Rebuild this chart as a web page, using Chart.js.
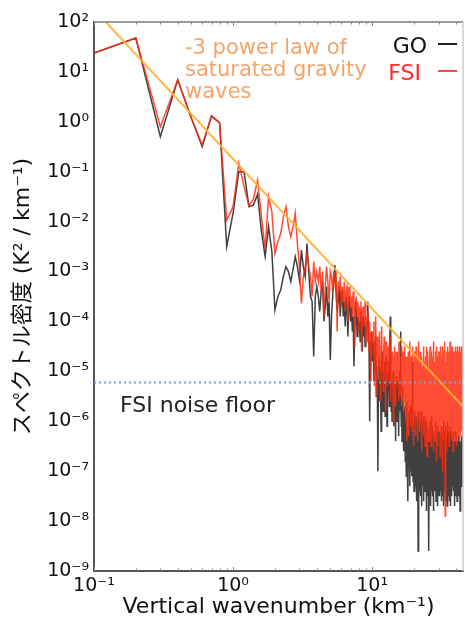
<!DOCTYPE html>
<html>
<head>
<meta charset="utf-8">
<script src="https://cdn.jsdelivr.net/npm/chart.js@4/dist/chart.umd.min.js"></script>
<style>
  html, body { margin: 0; padding: 0; background: #fff; }
  #spec { display: block; }
</style>
</head>
<body>
<canvas id="spec" width="465" height="620"></canvas>
<script>
// spectra, stored as log10(K^2 / km^-1), one row per 1 km^-1
const dk = 0.1;
const goLog = [
  1.38, 1.68, -0.3, 0.84, 0.08, -0.5, 0.12, -0.02, -2.5, -1.83,
  -1.0, -1.0, -1.7, -1.67, -1.45, -2.2, -2.7, -2.1, -2.6, -3.77,
  -3.5, -3.37, -3.1, -2.9, -3.0, -3.2, -2.95, -2.7, -2.9, -3.17,
  -2.57, -2.9, -3.1, -2.44, -3.0, -3.5, -3.6, -4.7, -3.5, -3.3,
  -3.5, -3.8, -3.4, -3.2, -4.0, -3.7, -3.3, -3.9, -3.6, -4.77,
  -3.9, -3.5, -3.2, -2.87, -3.4, -3.77, -3.6, -3.3, -3.9, -3.4,
  -3.4, -3.9, -3.6, -4.1, -3.5, -3.8, -4.3, -3.5, -3.7, -4.0,
  -3.7, -4.2, -3.9, -4.9, -4.0, -3.6, -3.8, -4.3, -3.9, -4.1,
  -4.0, -4.4, -3.8, -4.2, -4.6, -3.9, -4.3, -4.0, -4.5, -4.1,
  -4.3, -4.0, -3.6, -4.2, -4.5, -6.0, -4.4, -4.8, -4.2, -4.6,
  -4.8, -4.4, -5.2, -4.6, -5.0, -4.3, -5.5, -4.9, -5.3, -7.0,
  -5.2, -4.7, -5.6, -4.9, -5.4, -6.2, -5.0, -4.6, -5.3, -5.8,
  -5.0, -5.5, -4.8, -5.9, -5.2, -4.7, -5.6, -6.1, -5.3, -5.0,
  -5.4, -4.8, -5.7, -4.4, -3.9, -5.1, -5.8, -5.2, -6.0, -5.4,
  -5.6, -5.0, -6.1, -5.4, -5.8, -5.2, -6.4, -5.7, -5.1, -6.0,
  -6.0, -5.4, -5.9, -5.2, -6.3, -5.6, -5.0, -5.8, -5.3, -4.2,
  -5.5, -6.1, -5.7, -6.4, -5.9, -5.3, -6.2, -5.8, -6.6, -6.0,
  -6.2, -5.7, -6.8, -5.9, -6.5, -7.1, -6.0, -5.6, -6.6, -7.2,
  -7.6, -6.3, -5.8, -6.9, -6.1, -7.3, -6.4, -5.7, -7.0, -6.2,
  -6.6, -5.9, -7.1, -5.5, -4.8, -6.3, -7.2, -6.0, -6.7, -7.4,
  -6.1, -6.9, -5.8, -7.3, -6.4, -5.9, -7.0, -6.5, -7.6, -6.2,
  -5.9, -6.8, -6.3, -8.6, -6.5, -7.2, -5.8, -6.9, -6.2, -7.4,
  -6.7, -6.0, -7.5, -6.3, -5.8, -7.0, -7.7, -6.4, -6.0, -6.9,
  -6.2, -7.3, -6.5, -5.9, -7.6, -6.6, -7.1, -6.0, -6.8, -7.4,
  -6.4, -5.9, -7.2, -6.7, -7.8, -6.3, -6.0, -7.0, -6.5, -7.5,
  -6.1, -7.1, -6.4, -7.4, -6.7, -8.6, -6.9, -6.2, -7.3, -6.6,
  -6.0, -7.2, -6.5, -7.7, -6.3, -7.0, -5.9, -7.4, -6.6, -7.1,
  -6.8, -6.1, -7.5, -6.6, -7.0, -6.2, -7.8, -6.7, -7.2, -6.4,
  -7.1, -6.3, -7.4, -6.8, -6.0, -7.3, -6.6, -7.6, -6.9, -6.2,
  -7.3, -6.5, -7.0, -6.7, -6.1, -7.7, -6.8, -7.2, -6.3, -7.5,
  -6.6, -7.4, -6.2, -7.0, -6.5, -7.5, -6.9, -6.3, -7.4, -7.0,
  -6.4, -7.2, -6.8, -6.1, -7.3, -6.7, -7.6, -6.3, -7.0, -7.4,
  -6.9, -6.3, -7.5, -6.6, -7.1, -6.0, -7.2, -7.7, -6.5, -7.0,
  -6.5, -7.4, -6.9, -6.2, -7.1, -6.8, -6.1, -7.3, -7.6, -6.6,
  -7.2, -6.4, -7.0, -6.7, -6.3, -7.7, -6.6, -7.1, -6.0, -7.3,
  -6.8, -7.4, -6.3, -7.0, -6.6, -7.5, -6.2, -6.9, -7.6, -6.7,
  -7.1, -6.5, -6.9, -7.7, -6.4, -7.3, -6.1, -7.0, -6.7, -7.4,
  -6.5, -7.2, -6.8, -6.2, -7.5, -6.9, -6.4, -7.3, -6.7, -7.1,
  -6.9, -6.3, -7.4, -6.7, -7.1, -6.2, -7.3, -6.6, -7.7, -6.8,
  -6.6, -7.2, -6.4, -7.0, -6.5, -7.5, -6.9, -6.2, -7.3, -6.8,
  -7.0, -6.5, -7.4, -6.9, -6.3, -7.2, -6.7, -7.6, -6.5, -7.1,
  -6.7, -7.3, -6.9, -6.4, -7.2, -6.6, -7.5, -7.0, -6.3, -7.2,
  -6.9, -6.4, -7.1, -6.7, -7.3, -6.5, -7.2, -6.8, -7.8, -6.6,
  -7.1, -6.6, -7.0, -6.4, -7.4, -6.9, -6.5, -7.2, -6.8, -6.3,
  -7.0, -6.5, -7.3, -6.9, -6.4, -7.1, -6.6, -6.3, -6.9, -6.1
];
const fsiLog = [
  1.38, 1.68, -0.1, 0.84, 0.08, -0.46, 0.12, -0.02, -1.97, -1.7,
  -0.83, -1.3, -1.68, -1.55, -1.17, -1.9, -2.55, -1.5, -1.8, -2.64,
  -2.4, -2.24, -1.9, -1.7, -2.1, -2.3, -2.1, -1.83, -2.44, -2.9,
  -3.64, -3.1, -2.9, -2.64, -2.9, -3.1, -3.5, -2.8, -3.2, -3.0,
  -3.2, -2.9, -3.4, -3.0, -3.9, -3.3, -2.9, -3.2, -3.6, -3.0,
  -3.1, -3.4, -3.0, -3.2, -3.0, -4.2, -3.2, -3.4, -3.1, -3.7,
  -3.3, -3.6, -3.2, -3.8, -3.4, -3.3, -4.0, -3.5, -3.3, -3.7,
  -3.5, -3.9, -3.4, -3.7, -4.5, -3.6, -3.5, -3.9, -3.6, -4.2,
  -3.7, -4.0, -3.6, -4.6, -3.8, -3.7, -4.1, -3.9, -3.6, -4.4,
  -3.9, -4.4, -3.8, -4.1, -4.6, -4.0, -4.5, -5.2, -4.2, -4.4,
  -4.2, -4.7, -4.0, -5.3, -4.5, -3.9, -4.8, -5.5, -4.3, -4.6,
  -4.4, -5.0, -4.2, -4.8, -5.6, -4.5, -4.1, -5.0, -4.7, -5.4,
  -4.6, -4.3, -5.1, -4.7, -5.8, -4.4, -4.9, -4.5, -5.3, -4.8,
  -4.5, -5.2, -4.4, -4.9, -4.3, -5.6, -4.7, -5.0, -4.6, -5.4,
  -4.8, -6.0, -4.7, -5.1, -4.5, -5.4, -4.9, -5.7, -4.6, -5.2,
  -5.0, -4.6, -5.3, -4.8, -5.6, -4.4, -5.1, -4.7, -5.5, -4.9,
  -4.7, -5.2, -4.5, -5.6, -4.9, -5.3, -4.6, -5.8, -5.0, -4.8,
  -5.1, -4.5, -5.6, -4.9, -6.0, -4.7, -5.3, -6.4, -4.8, -5.5,
  -5.9, -4.6, -5.2, -6.3, -4.9, -5.5, -4.4, -5.8, -5.1, -6.1,
  -4.7, -5.6, -5.0, -6.2, -4.5, -5.7, -5.2, -4.8, -6.5, -5.3,
  -4.6, -5.9, -5.1, -4.8, -6.3, -5.4, -4.5, -5.7, -6.0, -5.0,
  -5.5, -4.7, -6.4, -5.2, -4.9, -5.8, -4.4, -5.3, -6.2, -5.0,
  -4.8, -6.0, -5.4, -4.6, -5.7, -6.6, -5.1, -4.7, -5.9, -5.3,
  -6.1, -4.9, -5.5, -4.5, -6.3, -5.2, -4.8, -5.8, -5.0, -6.5,
  -4.7, -5.6, -6.1, -5.0, -4.5, -5.9, -5.3, -6.7, -4.8, -5.4,
  -5.8, -4.6, -5.2, -6.2, -4.9, -5.5, -6.4, -4.7, -5.6, -5.1,
  -4.5, -6.0, -5.3, -4.8, -6.5, -5.1, -4.6, -5.7, -6.2, -5.0,
  -5.6, -4.7, -6.3, -5.2, -4.4, -5.9, -5.4, -6.6, -4.9, -5.5,
  -4.8, -5.7, -5.1, -6.4, -4.6, -5.3, -6.0, -4.9, -5.6, -6.8,
  -5.2, -4.5, -5.8, -6.1, -4.7, -5.4, -6.5, -5.0, -4.6, -5.9,
  -6.2, -4.8, -5.5, -4.6, -6.0, -5.3, -4.9, -6.7, -5.1, -4.5,
  -5.7, -6.3, -4.7, -5.4, -6.0, -4.8, -5.6, -5.1, -7.0, -4.6,
  -5.3, -4.5, -6.2, -5.0, -5.8, -4.7, -6.4, -5.2, -4.6, -5.9,
  -6.1, -4.9, -5.5, -4.4, -7.9, -5.3, -4.8, -6.3, -5.0, -5.7,
  -4.6, -6.0, -5.2, -4.8, -6.6, -5.4, -4.5, -5.8, -6.2, -4.9,
  -5.5, -4.7, -6.1, -5.3, -4.6, -5.9, -6.5, -4.8, -5.2, -6.0,
  -4.9, -5.6, -4.4, -6.3, -5.1, -4.7, -5.8, -6.1, -4.6, -5.4,
  -6.4, -5.0, -4.7, -5.7, -6.2, -4.5, -5.3, -6.0, -4.8, -5.6,
  -5.1, -6.6, -4.9, -5.4, -4.6, -6.1, -5.2, -4.7, -5.9, -6.3,
  -4.6, -5.5, -6.2, -4.8, -5.7, -5.0, -4.5, -6.4, -5.3, -4.9,
  -5.9, -4.7, -5.4, -6.0, -4.6, -5.6, -6.5, -4.9, -5.2, -4.5,
  -6.1, -5.0, -4.8, -5.8, -6.3, -4.6, -5.4, -4.9, -6.0, -5.2,
  -4.7, -6.2, -5.5, -4.5, -5.9, -6.4, -4.8, -5.3, -6.1, -4.6,
  -5.6, -4.9, -6.3, -5.1, -4.7, -5.8, -4.5, -6.0, -5.4, -4.8,
  -6.2, -4.6, -5.5, -4.9, -6.1, -5.2, -4.7, -5.8, -4.5, -5.3
];
const wavenumber = goLog.map((_, i) => +(dk * (i + 1)).toFixed(1));

// -3 power law end points and FSI noise floor
const powerLawX = [0.1216, 45];
const powerLawY = [100, 1.98e-6];
const noiseFloor = 6e-6;

const xTicks = [0.1, 1, 10];
const yTicks = [1e-9, 1e-8, 1e-7, 1e-6, 1e-5, 1e-4, 1e-3, 1e-2, 1e-1, 1, 1e1, 1e2];
const legendLabels = ['GO', 'FSI'];
const powerLawNote = ['-3 power law of', 'saturated gravity', 'waves'];

const FONT = "'DejaVu Sans', 'Noto Sans CJK JP', sans-serif";
const SUP = { '-': '\u207B', '0': '\u2070', '1': '\u00B9', '2': '\u00B2', '3': '\u00B3', '4': '\u2074',
  '5': '\u2075', '6': '\u2076', '7': '\u2077', '8': '\u2078', '9': '\u2079' };

function powLabel(v) {
  const e = String(Math.round(Math.log10(v)));
  return '10' + e.split('').map(c => SUP[c]).join('');
}

const goColor = 'rgba(0,0,0,0.75)';
const fsiColor = 'rgba(255,45,15,0.85)';

const extras = {
  id: 'extras',
  afterDatasetsDraw(chart) {
    const { ctx, chartArea: a, scales: { x } } = chart;
    ctx.save();
    // upper and right frame
    ctx.strokeStyle = '#999';
    ctx.lineWidth = 2;
    ctx.beginPath(); ctx.moveTo(a.left, a.top); ctx.lineTo(a.right, a.top); ctx.stroke();
    ctx.strokeStyle = '#ccc';
    ctx.lineWidth = 1.5;
    ctx.beginPath(); ctx.moveTo(a.right, a.top); ctx.lineTo(a.right, a.bottom); ctx.stroke();

    // minor x ticks
    ctx.strokeStyle = '#888';
    ctx.lineWidth = 1;
    [0.1, 1, 10].forEach(d => {
      for (let m = 1; m <= 9; m++) {
        const v = m * d;
        if (v > 45) break;
        const px = Math.round(x.getPixelForValue(v)) + 0.5;
        const len = m === 1 ? 4 : 2.5;
        ctx.beginPath();
        ctx.moveTo(px, a.bottom); ctx.lineTo(px, a.bottom - len);
        ctx.moveTo(px, a.top); ctx.lineTo(px, a.top + len);
        ctx.stroke();
      }
    });

    ctx.font = '21px ' + FONT;
    ctx.textBaseline = 'alphabetic';

    // power law note
    ctx.fillStyle = '#f5a46a';
    ctx.textAlign = 'left';
    powerLawNote.forEach((t, i) => ctx.fillText(t, 185, 54 + i * 22));

    // noise floor note
    ctx.font = '22px ' + FONT;
    ctx.fillStyle = '#222';
    ctx.fillText('FSI noise floor', 120, 412);

    // legend: text then line
    ctx.textAlign = 'right';
    ctx.fillStyle = '#111';
    ctx.fillText(legendLabels[0], 427, 53);
    ctx.fillStyle = '#ff2a2a';
    ctx.fillText(legendLabels[1], 421, 80);
    ctx.lineWidth = 2;
    ctx.strokeStyle = '#222';
    ctx.beginPath(); ctx.moveTo(438, 44); ctx.lineTo(457, 44); ctx.stroke();
    ctx.strokeStyle = '#ff4a4a';
    ctx.beginPath(); ctx.moveTo(438, 71); ctx.lineTo(457, 71); ctx.stroke();
    ctx.restore();
  }
};

new Chart(document.getElementById('spec').getContext('2d'), {
  type: 'line',
  data: {
    datasets: [
      {
        label: 'FSI',
        data: fsiLog.map((v, i) => ({ x: wavenumber[i], y: Math.pow(10, v) })),
        borderColor: fsiColor,
        borderWidth: 1.5,
        pointRadius: 0
      },
      {
        label: 'GO',
        data: goLog.map((v, i) => ({ x: wavenumber[i], y: Math.pow(10, v) })),
        borderColor: goColor,
        borderWidth: 1.5,
        pointRadius: 0
      },
      {
        label: 'power law',
        data: powerLawX.map((v, i) => ({ x: v, y: powerLawY[i] })),
        borderColor: 'rgba(255,175,50,0.9)',
        borderWidth: 2,
        pointRadius: 0,
        order: -1
      },
      {
        label: 'noise floor',
        data: [{ x: 0.1, y: noiseFloor }, { x: 45, y: noiseFloor }],
        borderColor: '#6fa3d8',
        borderWidth: 2,
        borderDash: [2, 3],
        pointRadius: 0,
        order: -2
      }
    ]
  },
  options: {
    responsive: false,
    animation: false,
    devicePixelRatio: 1,
    layout: { padding: { top: 22, right: 2, left: 0, bottom: 0 } },
    plugins: { legend: { display: false }, tooltip: { enabled: false } },
    elements: { line: { tension: 0 } },
    scales: {
      x: {
        type: 'logarithmic',
        min: 0.1,
        max: 45,
        afterBuildTicks: s => { s.ticks = xTicks.map(v => ({ value: v })); },
        afterFit: s => { s.height = 49; },
        ticks: {
          callback: v => powLabel(v),
          font: { family: FONT, size: 19 },
          color: '#111',
          padding: 4,
          maxRotation: 0,
          autoSkip: false
        },
        grid: { drawOnChartArea: false, drawTicks: false },
        border: { color: '#555', width: 2 },
        title: {
          display: true,
          text: 'Vertical wavenumber (km\u207B\u00B9)',
          font: { family: FONT, size: 22 },
          color: '#111',
          padding: { top: 0, bottom: 0 }
        }
      },
      y: {
        type: 'logarithmic',
        min: 1e-9,
        max: 1e2,
        afterBuildTicks: s => { s.ticks = yTicks.map(v => ({ value: v })); },
        afterFit: s => { s.width = 94; },
        ticks: {
          callback: v => powLabel(v),
          font: { family: FONT, size: 19 },
          color: '#111',
          padding: 5,
          autoSkip: false
        },
        grid: { drawOnChartArea: false, drawTicks: false },
        border: { color: '#555', width: 2 },
        title: {
          display: true,
          text: 'スペクトル密度 (K\u00B2 / km\u207B\u00B9)',
          font: { family: FONT, size: 22 },
          color: '#111',
          padding: { top: 10, bottom: 0 }
        }
      }
    }
  },
  plugins: [extras]
});
</script>
</body>
</html>
